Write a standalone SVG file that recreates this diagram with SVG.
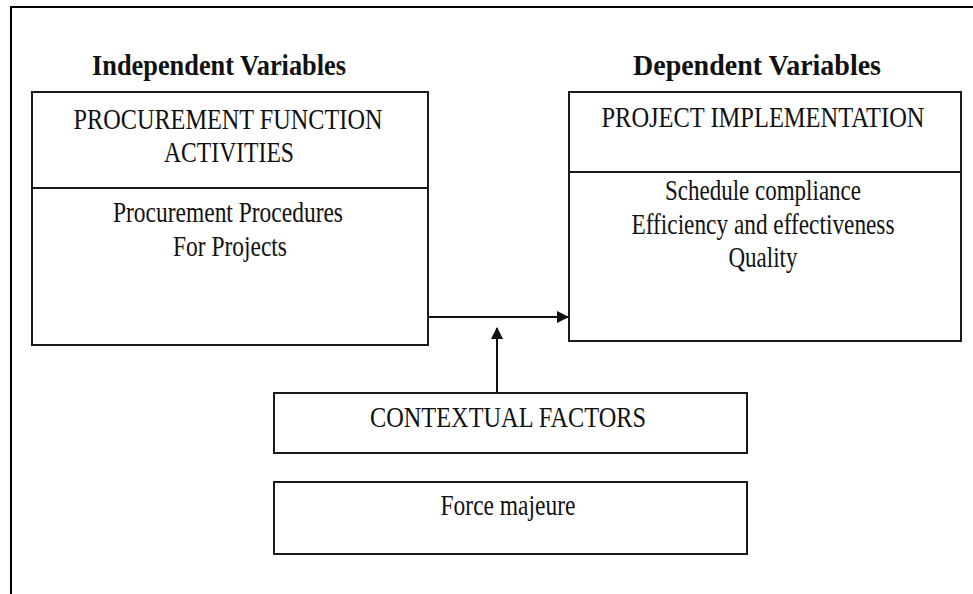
<svg xmlns="http://www.w3.org/2000/svg" width="973" height="594" viewBox="0 0 973 594">
  <style>
    .frame { fill: none; stroke: #000; stroke-width: 2; }
    .box { fill: #fff; stroke: #1a1a1a; stroke-width: 2; }
    .div { stroke: #1a1a1a; stroke-width: 2; }
    .txt { font-family: "Liberation Serif", "Times New Roman", serif; font-size: 29px; fill: #111; text-anchor: middle; }
    .head { font-family: "Liberation Serif", "Times New Roman", serif; font-size: 29px; font-weight: bold; fill: #111; text-anchor: middle; }
    .conn { fill: none; stroke: #111; stroke-width: 2; }
  </style>
  <defs>
    <marker id="arrow" viewBox="0 0 12 12" refX="11" refY="6" markerWidth="12" markerHeight="12" markerUnits="userSpaceOnUse" orient="auto">
      <path d="M0,0 L12,6 L0,12 Z" fill="#111"/>
    </marker>
  </defs>
  <rect width="973" height="594" fill="#fff"/>

  <!-- outer frame (top and left edges only) -->
  <path class="frame" d="M11,594 L11,7 L973,7"/>

  <!-- headings -->
  <text class="head" x="219" y="75" textLength="254" lengthAdjust="spacingAndGlyphs">Independent Variables</text>
  <text class="head" x="757" y="75" textLength="248" lengthAdjust="spacingAndGlyphs">Dependent Variables</text>

  <g id="independent">
    <rect class="box" x="32" y="92" width="396" height="253"/>
    <line class="div" x1="32" y1="188" x2="428" y2="188"/>
    <text class="txt" x="228" y="129" textLength="309" lengthAdjust="spacingAndGlyphs">PROCUREMENT FUNCTION</text>
    <text class="txt" x="229" y="162" textLength="130" lengthAdjust="spacingAndGlyphs">ACTIVITIES</text>
    <text class="txt" x="228" y="222" textLength="230" lengthAdjust="spacingAndGlyphs">Procurement Procedures</text>
    <text class="txt" x="230" y="256" textLength="114" lengthAdjust="spacingAndGlyphs">For Projects</text>
  </g>

  <g id="dependent">
    <rect class="box" x="569" y="92" width="392" height="249"/>
    <line class="div" x1="569" y1="172" x2="961" y2="172"/>
    <text class="txt" x="763" y="127" textLength="323" lengthAdjust="spacingAndGlyphs">PROJECT IMPLEMENTATION</text>
    <text class="txt" x="763" y="200" textLength="196" lengthAdjust="spacingAndGlyphs">Schedule compliance</text>
    <text class="txt" x="763" y="234" textLength="263" lengthAdjust="spacingAndGlyphs">Efficiency and effectiveness</text>
    <text class="txt" x="763" y="267" textLength="69" lengthAdjust="spacingAndGlyphs">Quality</text>
  </g>

  <g id="contextual">
    <rect class="box" x="274" y="393" width="473" height="60"/>
    <text class="txt" x="508" y="427" textLength="276" lengthAdjust="spacingAndGlyphs">CONTEXTUAL FACTORS</text>
  </g>

  <g id="force-majeure">
    <rect class="box" x="274" y="482" width="473" height="72"/>
    <text class="txt" x="508" y="515" textLength="135" lengthAdjust="spacingAndGlyphs">Force majeure</text>
  </g>

  <g id="connectors">
    <line class="conn" x1="428" y1="317" x2="568" y2="317" marker-end="url(#arrow)"/>
    <line class="conn" x1="497" y1="392" x2="497" y2="328" marker-end="url(#arrow)"/>
  </g>
</svg>
